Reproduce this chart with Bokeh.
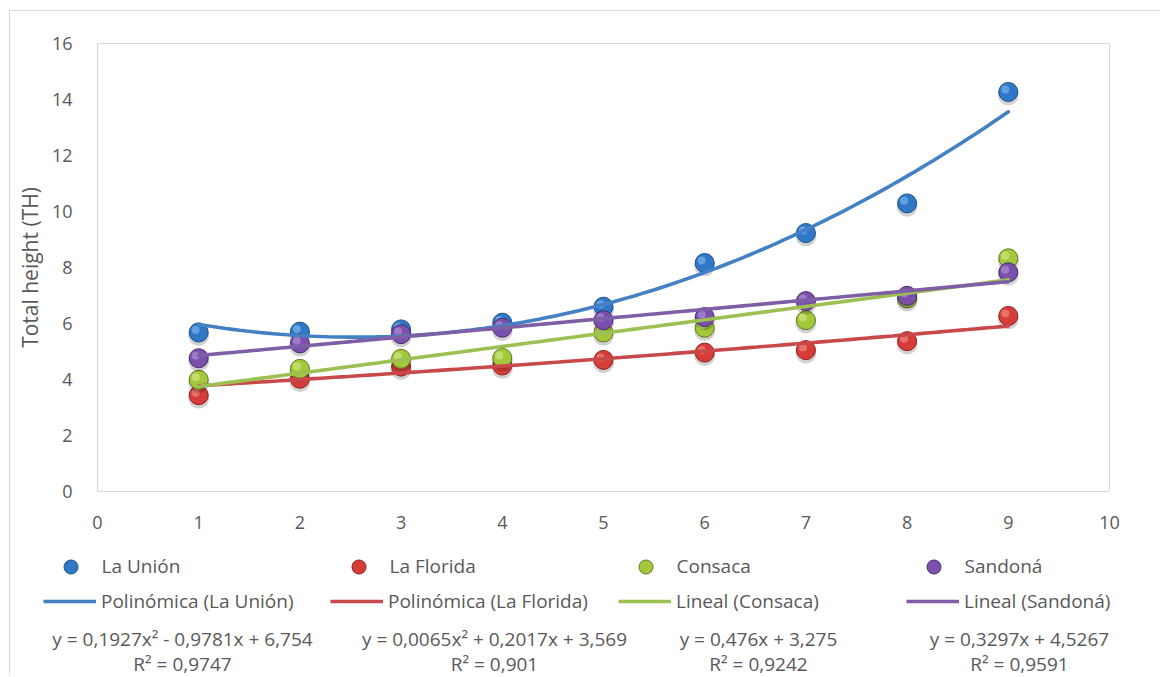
import numpy as np
from bokeh.plotting import figure
from bokeh.layouts import column
from bokeh.models import (ColumnDataSource, Legend, LegendItem, Label,
                          SingleIntervalTicker, Range1d)
from bokeh.transform import dodge
from bokeh.embed import file_html
from bokeh.resources import INLINE

# ---------------- data ----------------
x_vals = [1, 2, 3, 4, 5, 6, 7, 8, 9]
la_union = [5.68, 5.71, 5.79, 6.03, 6.60, 8.16, 9.23, 10.29, 14.27]
la_florida = [3.44, 4.03, 4.46, 4.50, 4.70, 4.96, 5.05, 5.37, 6.27]
consaca = [3.99, 4.38, 4.74, 4.77, 5.68, 5.85, 6.12, 6.90, 8.33]
sandona = [4.76, 5.29, 5.62, 5.85, 6.12, 6.23, 6.80, 6.99, 7.83]

series_names = ["La Unión", "La Florida", "Consaca", "Sandoná"]
trend_names = ["Polinómica (La Unión)", "Polinómica (La Florida)",
               "Lineal (Consaca)", "Lineal (Sandoná)"]
coef_la_union = [0.1927, -0.9781, 6.754]
coef_la_florida = [0.0065, 0.2017, 3.569]
coef_consaca = [0.476, 3.275]
coef_sandona = [0.3297, 4.5267]
equations = ["y = 0,1927x² - 0,9781x + 6,754", "y = 0,0065x² + 0,2017x + 3,569",
             "y = 0,476x + 3,275", "y = 0,3297x + 4,5267"]
r_squared = ["R² = 0,9747", "R² = 0,901", "R² = 0,9242", "R² = 0,9591"]
y_label = "Total height (TH)"

# ---------------- styles ----------------
FONT = "Open Sans"
TXT = "#595959"
marker_fill = ["#2f78c8", "#d63c38", "#a3c83c", "#7b4fac"]
marker_line = ["#1d4f86", "#8e1f1c", "#5f7a1c", "#4a2b6e"]
marker_hi = ["#8fc0f0", "#f59a94", "#d9f08e", "#bba0dd"]
trend_col = ["#4481c4", "#c9484a", "#9cc152", "#7e5fa6"]

OX, OY = 10, 11          # page position of the layout's content
W = 1150
H1 = 540 - OY            # main chart canvas height
H2 = 675 - 540           # legend canvas height

p = figure(width=W, height=H1, output_backend="svg", toolbar_location=None,
           x_range=Range1d(0, 10), y_range=Range1d(0, 16),
           min_border_left=97 - OX, min_border_right=OX + W - 1109,
           min_border_top=43 - OY, min_border_bottom=540 - 491)
p.background_fill_color = "white"
p.border_fill_color = "white"
p.outline_line_color = "#d9d9d9"
p.outline_line_width = 1
p.xgrid.visible = False
p.ygrid.visible = False

for ax in (p.xaxis[0], p.yaxis[0]):
    ax.axis_line_color = None
    ax.major_tick_line_color = None
    ax.minor_tick_line_color = None
    ax.major_tick_out = 0
    ax.major_tick_in = 0
    ax.major_label_text_font = FONT
    ax.major_label_text_font_size = "18px"
    ax.major_label_text_color = TXT

p.xaxis.ticker = SingleIntervalTicker(interval=1)
p.yaxis.ticker = SingleIntervalTicker(interval=2)
p.yaxis.major_label_standoff = 21
p.xaxis.major_label_standoff = 20
p.yaxis.axis_label = y_label
p.yaxis.axis_label_text_font = FONT
p.yaxis.axis_label_text_font_size = "21px"
p.yaxis.axis_label_text_font_style = "normal"
p.yaxis.axis_label_text_color = TXT
p.yaxis.axis_label_standoff = 5

# ---------------- markers ----------------
all_series = [la_union, la_florida, consaca, sandona]
for i, ys in enumerate(all_series):
    src = ColumnDataSource(dict(x=x_vals, y=ys))
    p.scatter(x="x", y=dodge("y", -0.10, range=p.y_range), source=src, size=21,
              fill_color="#000000", fill_alpha=0.18, line_color=None)
    p.scatter(x="x", y="y", source=src, size=19, fill_color=marker_fill[i],
              line_color=marker_line[i], line_width=1)
    p.scatter(x=dodge("x", -0.03, range=p.x_range), y=dodge("y", 0.09, range=p.y_range),
              source=src, size=8, fill_color=marker_hi[i], fill_alpha=0.55,
              line_color=None)

# ---------------- trendlines ----------------
all_coefs = [coef_la_union, coef_la_florida, coef_consaca, coef_sandona]
x_fit = np.linspace(min(x_vals), max(x_vals), 120)
for i, c in enumerate(all_coefs):
    src = ColumnDataSource(dict(x=x_fit, y=np.polyval(c, x_fit)))
    p.line(x="x", y="y", source=src, line_color=trend_col[i], line_width=3.6,
           line_cap="round")

# ---------------- legend panel (4 columns) ----------------
p2 = figure(width=W, height=H2, output_backend="svg", toolbar_location=None,
            x_range=Range1d(0, 1), y_range=Range1d(0, 1),
            x_axis_type=None, y_axis_type=None, min_border=0,
            min_border_left=0, min_border_right=0, min_border_top=0,
            min_border_bottom=0)
if "frame_align" in p2.properties():
    p2.frame_align = False
if "frame_align" in p.properties():
    p.frame_align = False
p2.outline_line_color = None
p2.xgrid.visible = False
p2.ygrid.visible = False
p2.background_fill_color = "white"
p2.border_fill_color = "white"

LEG_FS = "19px"


def add_legend(label, renderer, x, y, gw, gh, standoff):
    lg = Legend(items=[LegendItem(label=label, renderers=[renderer])],
                location=(x, y), orientation="horizontal", padding=0, margin=0,
                spacing=0, glyph_width=gw, glyph_height=gh, label_height=gh,
                label_standoff=standoff, label_text_font=FONT,
                label_text_font_size=LEG_FS, label_text_color=TXT,
                border_line_color=None, background_fill_alpha=0)
    p2.add_layout(lg, "center")


def ly(page_y):
    return 675 - page_y


nan = float("nan")
marker_center = [70, 358, 645, 933]
line_left = [43, 330, 618, 906]
eq_center = [182, 494, 758, 1019]
for i in range(4):
    mk = p2.scatter(x=[nan], y=[nan], size=18, fill_color=marker_fill[i],
                    line_color=marker_line[i], line_width=1)
    ln = p2.line(x=[nan, nan], y=[nan, nan], line_color=trend_col[i], line_width=3.6)
    add_legend(series_names[i], mk, marker_center[i] - 17.5 - OX, ly(566) - 17.5, 35, 35, 14)
    add_legend(trend_names[i], ln, line_left[i] - OX, ly(602) - 12, 53, 24, 5)
    p2.add_layout(Label(x=eq_center[i] - OX, y=ly(638), x_units="screen", y_units="screen",
                        text=equations[i], text_align="center", text_baseline="middle",
                        text_font=FONT, text_font_size=LEG_FS, text_color=TXT))
    p2.add_layout(Label(x=eq_center[i] - OX, y=ly(663), x_units="screen", y_units="screen",
                        text=r_squared[i], text_align="center", text_baseline="middle",
                        text_font=FONT, text_font_size=LEG_FS, text_color=TXT))

layout = column(p, p2, spacing=0,
                styles={"margin-left": f"{OX - 1}px", "margin-top": f"{OY - 1}px",
                        "border-left": "1px solid #d9d9d9",
                        "border-top": "1px solid #d9d9d9"})

open("out.html", "w").write(file_html(layout, INLINE))
